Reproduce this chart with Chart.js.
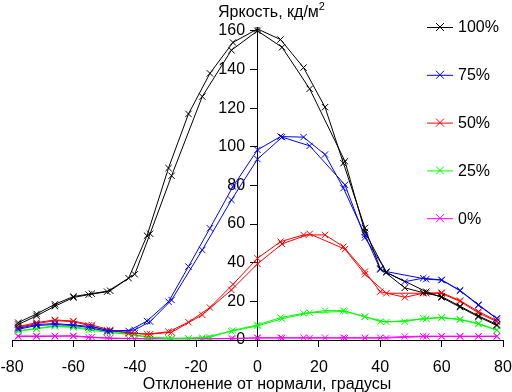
<!DOCTYPE html>
<html>
<head>
<meta charset="utf-8">
<script src="https://cdn.jsdelivr.net/npm/chart.js@4"></script>
<style>
  html, body { margin: 0; padding: 0; background: #fff; }
</style>
</head>
<body>
<canvas id="c" width="512" height="392"></canvas>
<script>
// --- angles (two measurement passes) ---
const xA = [-78, -72, -66, -60, -54, -48, -42, -36, -29, -22.5, -15.5, -8, 0, 7.5, 15, 22, 28, 35, 40, 48, 54, 60, 66, 72, 78];
const xB = [-78, -72, -66, -60, -55, -49, -40, -35, -28, -18, -8.5, 0, 8, 17, 28.5, 35, 42, 48, 55, 60, 66, 72, 78];
const yTicks = [0, 20, 40, 60, 80, 100, 120, 140, 160];

// --- brightness, cd/m2 ---
const black_A = [9, 13.5, 18.5, 22.5, 24, 25.5, 32, 54, 89, 117, 138, 154, 161, 155.5, 141, 120.5, 91.5, 58, 37, 27, 24.5, 22.5, 17.5, 12.5, 8];
const black_B = [8, 12.5, 17.5, 22, 23.5, 25, 34, 55, 85, 126, 150, 160, 151.5, 130, 92.5, 56, 35, null, 25, 22, 17, 12, 7.5];
const blue_A = [6, 8, 8.5, 7.8, 6.9, 4.7, 4.7, 9.8, 19.8, 38, 57.8, 79.4, 98.4, 105.3, 105, 96, 78.6, 54.4, 36.5, 30.2, 32, 31.1, 25.7, 18.3, 11.2];
const blue_B = [5.5, 7.5, 8, 7.5, 6.5, 4.5, 5.2, 9.5, 20.7, 46.6, 72.5, 93.6, 105, 100.5, 80.3, 53, 35.4, null, 31.5, 31, 25.5, 18, 11];
const red_A = [6.9, 9, 10.4, 9.8, 7.8, 5.2, 3.5, 3, 4.3, 9.2, 16.8, 28.8, 42.3, 50.9, 54.4, 54.4, 48.3, 35.4, 25, 22.1, 24.2, 24.5, 20.4, 14.7, 10];
const red_B = [6.5, 8.5, 10, 9.5, 7.5, 5, 3.5, 3, 4, 13, 25.9, 39.4, 49.7, 54.9, 47, 34, 24.2, null, 24.2, 24, 20, 14, 9.5];
const green_A = [4.8, 6, 7.4, 6.9, 5.5, 4.3, 3.1, 1.4, 0.8, 0.8, 1.4, 5, 7.8, 11.6, 13.8, 15.2, 15.2, 12.1, 9.5, 9.5, 11.2, 11.7, 10.7, 8.6, 5.2];
const green_B = [4.5, 5.8, 7, 6.5, 5.2, 4, 2.6, 1.5, 0.9, 1.2, 4.5, 7.3, 11, 14.1, 14.8, 12, 9.3, null, 11, 11.5, 10.5, 8.3, 5];
const magenta_A = [2.1, 2.1, 2.1, 2.2, 1.5, 1, 0.8, 0.7, 0.7, 0.7, 0.7, 0.8, 1.2, 1.2, 1.2, 1.2, 1.2, 1.2, 1.2, 1.8, 2, 2, 2, 2, 2];
const magenta_B = [1.8, 1.8, 1.9, 2, 1.3, 0.9, 0.7, 0.6, 0.6, 0.6, 0.7, 1, 1, 1, 1, 1, 1, null, 1.8, 1.8, 1.8, 1.8, 1.8];

const seriesNames = ['100%', '75%', '50%', '25%', '0%'];
const seriesColors = ['#000000', '#0000ff', '#ff0000', '#00ff00', '#ff00ff'];
const seriesValues = [
    [black_A, black_B],
    [blue_A, blue_B],
    [red_A, red_B],
    [green_A, green_B],
    [magenta_A, magenta_B]
];

const FONT = '"Liberation Sans", Arial, sans-serif';

function points(xs, ys) {
    const out = [];
    xs.forEach((x, i) => {
        if (ys[i] !== null) out.push({ x: x, y: ys[i] });
    });
    return out;
}

const datasets = [];
seriesValues.forEach((pair, s) => {
    [xA, xB].forEach((xs, k) => {
        datasets.push({
            label: seriesNames[s],
            data: points(xs, pair[k]),
            showLine: true,
            borderColor: seriesColors[s],
            backgroundColor: seriesColors[s],
            borderWidth: 1,
            pointStyle: 'crossRot',
            pointRadius: 4.5,
            pointBorderWidth: 1,
            order: s
        });
    });
});

// legend and axis captions drawn by hand, like the original sheet
const captions = {
    id: 'captions',
    afterDraw(chart) {
        const ctx = chart.ctx;
        ctx.save();
        ctx.fillStyle = '#000';
        ctx.textBaseline = 'alphabetic';
        ctx.font = '16px ' + FONT;
        ctx.textAlign = 'left';
        ctx.fillText('Яркость, кд/м', 218, 17);
        const w = ctx.measureText('Яркость, кд/м').width;
        ctx.font = '11px ' + FONT;
        ctx.fillText('2', 218 + w, 10);
        ctx.font = '16px ' + FONT;
        ctx.textAlign = 'center';
        ctx.fillText('Отклонение от нормали, градусы', 267, 389);

        ctx.textAlign = 'left';
        ctx.textBaseline = 'middle';
        seriesNames.forEach((name, i) => {
            const y = 27 + i * 47.8;
            ctx.strokeStyle = seriesColors[i];
            ctx.lineWidth = 1;
            ctx.beginPath();
            ctx.moveTo(427, y + 0.5);
            ctx.lineTo(453, y + 0.5);
            ctx.moveTo(436, y - 4);
            ctx.lineTo(444, y + 4);
            ctx.moveTo(444, y - 4);
            ctx.lineTo(436, y + 4);
            ctx.stroke();
            ctx.fillStyle = '#000';
            ctx.fillText(name, 458, y + 1);
        });
        ctx.restore();
    }
};

new Chart(document.getElementById('c'), {
    type: 'scatter',
    data: { datasets: datasets },
    options: {
        responsive: false,
        animation: false,
        layout: { padding: { left: 12, right: 9, top: 27, bottom: 3.8 } },
        plugins: {
            legend: { display: false },
            tooltip: { enabled: false }
        },
        scales: {
            x: {
                type: 'linear',
                position: 'bottom',
                min: -80,
                max: 80,
                // tick padding would otherwise widen the side margins
                afterFit: scale => {
                    scale.paddingLeft = 0;
                    scale.paddingRight = 0;
                },
                ticks: { stepSize: 20, color: '#000', font: { family: FONT, size: 16 }, padding: 11, maxRotation: 0 },
                grid: { drawOnChartArea: false, drawTicks: true, tickLength: 7, color: '#000' },
                border: { color: '#000', width: 1 }
            },
            y: {
                type: 'linear',
                position: { x: 0 },
                min: 0,
                max: 162,
                afterBuildTicks: scale => {
                    scale.ticks = yTicks.map(v => ({ value: v }));
                },
                ticks: {
                    color: '#000',
                    font: { family: FONT, size: 16 },
                    autoSkip: false,
                    // this axis sits at x = 0, so its labels get no padding; pad with spaces
                    callback: v => v + '\u2002 '
                },
                grid: { drawOnChartArea: false, drawTicks: true, tickLength: 7, color: '#000' },
                border: { color: '#000', width: 1 }
            }
        }
    },
    plugins: [captions]
});
</script>
</body>
</html>
